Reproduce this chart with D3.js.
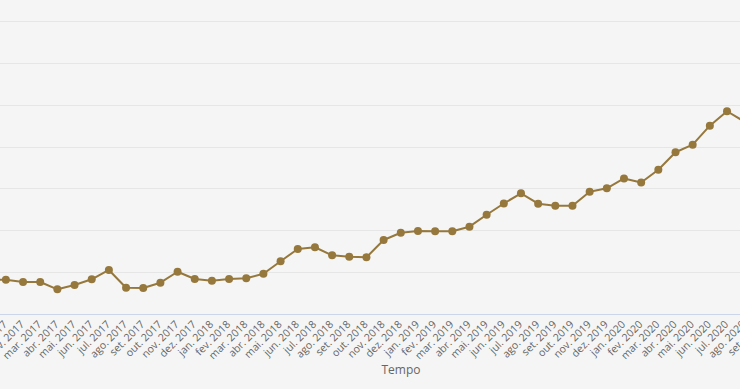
<!DOCTYPE html>
<html>
<head>
<meta charset="utf-8">
<script src="https://cdn.jsdelivr.net/npm/d3@7/dist/d3.min.js"></script>
<style>
  body { margin: 0; background: #f5f5f5; }
  svg { display: block; font-family: "Open Sans", sans-serif; }
</style>
</head>
<body>
<div id="chart"></div>
<script>
// Month categories (the chart is cropped, first and last ones sit off the edges)
const months = [
  "dez. 2016",
  "jan. 2017", "fev. 2017", "mar. 2017", "abr. 2017", "mai. 2017", "jun. 2017",
  "jul. 2017", "ago. 2017", "set. 2017", "out. 2017", "nov. 2017", "dez. 2017",
  "jan. 2018", "fev. 2018", "mar. 2018", "abr. 2018", "mai. 2018", "jun. 2018",
  "jul. 2018", "ago. 2018", "set. 2018", "out. 2018", "nov. 2018", "dez. 2018",
  "jan. 2019", "fev. 2019", "mar. 2019", "abr. 2019", "mai. 2019", "jun. 2019",
  "jul. 2019", "ago. 2019", "set. 2019", "out. 2019", "nov. 2019", "dez. 2019",
  "jan. 2020", "fev. 2020", "mar. 2020", "abr. 2020", "mai. 2020", "jun. 2020",
  "jul. 2020", "ago. 2020", "set. 2020"
];

// Values (y axis labels are cropped away)
const values = [
  41,
  41, 38.2, 38.2, 29.5, 34.6, 41.5,
  52.6, 31.3, 31.1, 37.4, 50.5, 41.8,
  39.8, 41.8, 42.7, 48.1, 63, 77.7,
  79.7, 70.1, 68.5, 67.7, 88.4, 97.1,
  99.2, 98.8, 98.8, 104.3, 118.6, 132,
  144.2, 131.8, 129.4, 129.4, 146.1, 150.2,
  161.9, 157.1, 172.4, 193.2, 202.3, 225,
  242.2, 229.9, null
];

const yTicks = [0, 50, 100, 150, 200, 250, 300, 350];

const width = 740, height = 389;
const lineColor = "#96783c";

const svg = d3.select("#chart").append("svg")
  .attr("width", width)
  .attr("height", height);

svg.append("rect")
  .attr("width", width)
  .attr("height", height)
  .attr("fill", "#f5f5f5");

const x = d3.scalePoint()
  .domain(months)
  .range([-11.3, -11.3 + 45 * 17.17]);

const y = d3.scaleLinear()
  .domain([0, 350])
  .range([314, 21]);

// Horizontal grid
svg.append("g")
  .selectAll("line")
  .data(yTicks.slice(1))
  .enter().append("line")
    .attr("x1", 0)
    .attr("x2", width)
    .attr("y1", d => Math.round(y(d)) + 0.5)
    .attr("y2", d => Math.round(y(d)) + 0.5)
    .attr("stroke", "#e6e6e6");

// x axis line
svg.append("line")
  .attr("x1", 0)
  .attr("x2", width)
  .attr("y1", Math.round(y(0)) + 0.5)
  .attr("y2", Math.round(y(0)) + 0.5)
  .attr("stroke", "#ccd6eb");

// x labels, rotated -45
svg.append("g")
  .selectAll("text")
  .data(months)
  .enter().append("text")
    .attr("transform", d => "translate(" + (x(d) + 2) + "," + 325 + ") rotate(-45)")
    .attr("text-anchor", "end")
    .attr("fill", "#666666")
    .style("font-size", "10.5px")
    .text(d => d);

// axis title
svg.append("text")
  .attr("x", 401)
  .attr("y", 374)
  .attr("text-anchor", "middle")
  .attr("fill", "#666666")
  .style("font-size", "12px")
  .text("Tempo");

const data = months.map((m, i) => ({ month: m, value: values[i] }));

const line = d3.line()
  .defined(d => d.value !== null)
  .x(d => x(d.month))
  .y(d => y(d.value));

svg.append("path")
  .datum(data)
  .attr("fill", "none")
  .attr("stroke", lineColor)
  .attr("stroke-width", 2)
  .attr("stroke-linejoin", "round")
  .attr("d", line);

svg.append("g")
  .selectAll("circle")
  .data(data.filter(d => d.value !== null))
  .enter().append("circle")
    .attr("cx", d => x(d.month))
    .attr("cy", d => y(d.value))
    .attr("r", 4)
    .attr("fill", lineColor);
</script>
</body>
</html>
